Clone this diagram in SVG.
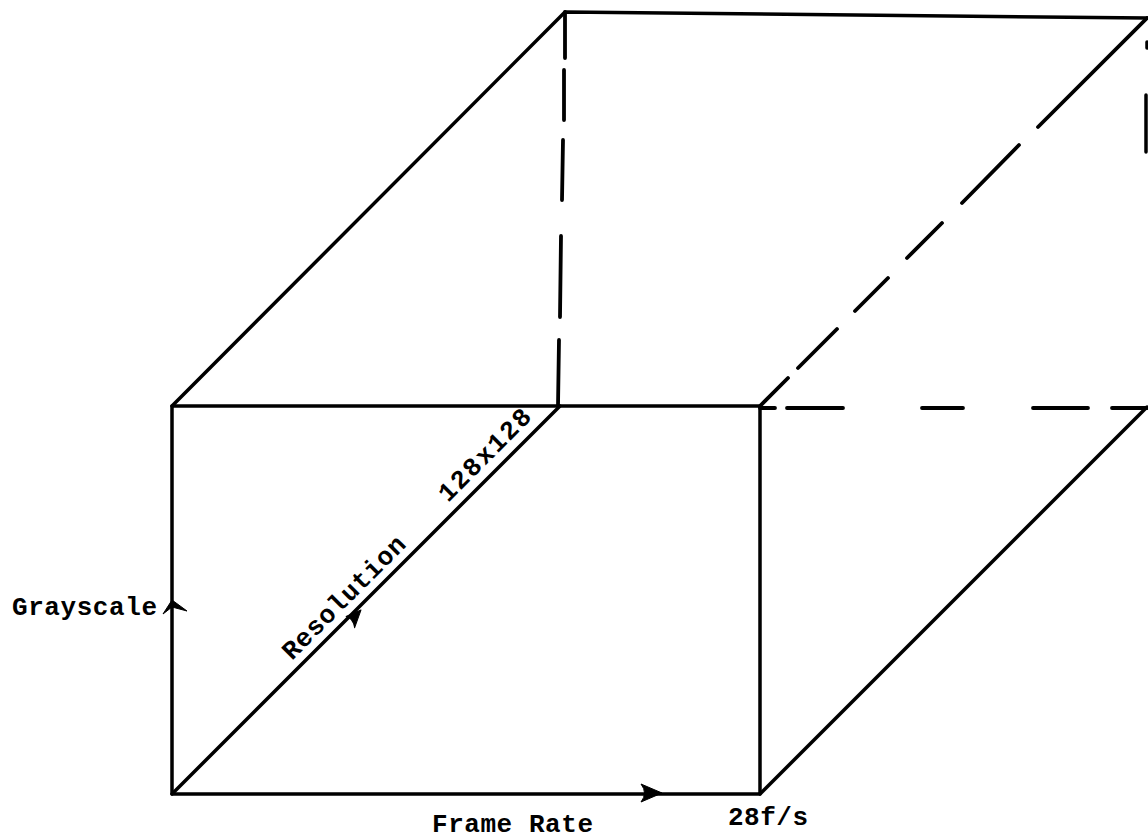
<svg xmlns="http://www.w3.org/2000/svg" width="1148" height="839" viewBox="0 0 1148 839">
<style>
.s{stroke:#000;stroke-width:3.5;fill:none;stroke-linecap:round;stroke-linejoin:round}
.d{stroke:#000;stroke-width:3.8;fill:none;stroke-linecap:round}
.t{font-family:"Liberation Mono","Courier New",monospace;font-size:26px;font-weight:bold;fill:#000}
.a{fill:#000;stroke:#000;stroke-width:1;stroke-linejoin:round}
</style>
<rect width="1148" height="839" fill="#fff"/>
<g id="connectors">
<g id="solid-edges">
<path class="s" d="M172,406 L760,406 L760,794 L172,794 Z"/>
<path class="s" d="M172,406 L565,12 L1147,18"/>
<path class="s" d="M172,794 L560,406"/>
<path class="s" d="M760,794 L1147,407"/>
<path class="s" d="M1146,95 L1146,152"/>
<path class="s" d="M1147,42 L1147,48"/>
</g>
<g id="dashed-edges">
<path class="d" d="M565,12 L565,58 M564,70 L564,120 M563,140 L562,200 M561,236 L560,317 M559,340 L558,406"/>
<path class="d" d="M760,408 L775,408 M787,408 L843,408 M922,408 L963,408 M1033,408 L1088,408 M1112,408 L1147,408"/>
<path class="d" d="M760,406 L788,378 M798,368 L837,329 M855,311 L888,278 M907,258 L942,223 M962,203 L1019,145 M1038,127 L1147,18"/>
</g>
<g id="arrowheads">
<path class="a" d="M662,793 L641,784 Q648,793 641,802 Z"/>
<path class="a" d="M172,600 L187,611 L172,607 L163,614 Z"/>
<g transform="translate(356,615) rotate(-45)"><path class="a" d="M7,0 L-8,-6 Q-4,0 -10,8 Z"/></g>
</g>
</g>
<g id="label-grayscale"><text class="t" x="12" y="615" textLength="145" lengthAdjust="spacing">Grayscale</text></g>
<g id="label-framerate"><text class="t" x="432" y="832" textLength="161" lengthAdjust="spacing">Frame Rate</text></g>
<g id="label-28fs"><text class="t" x="728" y="825" textLength="80" lengthAdjust="spacing">28f/s</text></g>
<g id="label-resolution"><text class="t" transform="translate(292,661) rotate(-45)" x="0" y="0" textLength="163" lengthAdjust="spacing">Resolution</text></g>
<g id="label-128"><text class="t" transform="translate(448,503) rotate(-45)" x="0" y="0" textLength="120" lengthAdjust="spacing">128x128</text></g>
</svg>
